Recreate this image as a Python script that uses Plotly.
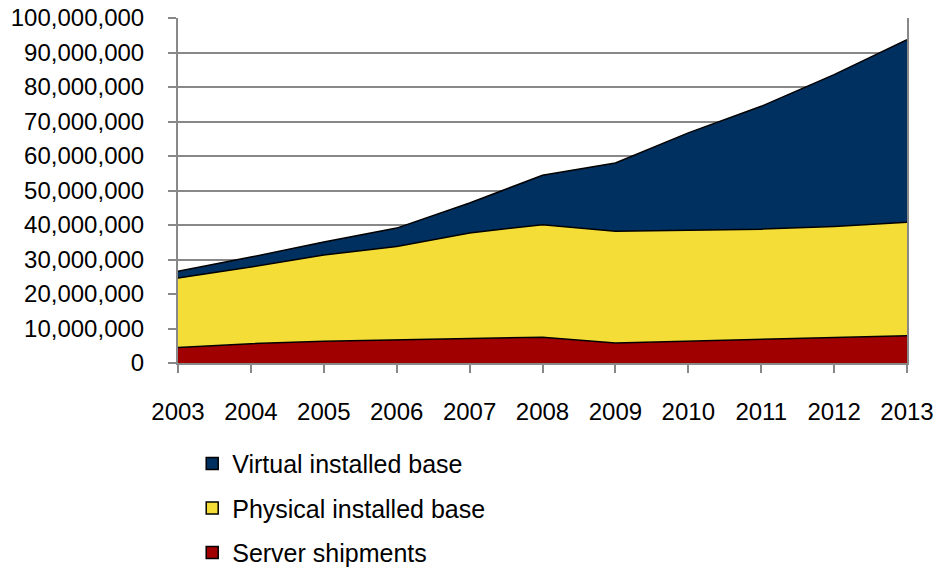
import plotly.graph_objects as go

years = [2003, 2004, 2005, 2006, 2007, 2008, 2009, 2010, 2011, 2012, 2013]
server_shipments = [4.5e6, 5.6e6, 6.3e6, 6.75e6, 7.2e6, 7.5e6, 5.8e6, 6.3e6, 7.0e6, 7.5e6, 7.9e6]
physical_base = [20.1e6, 22.2e6, 25.0e6, 27.05e6, 30.5e6, 32.6e6, 32.4e6, 32.3e6, 31.8e6, 32.1e6, 32.9e6]
virtual_base = [2.0e6, 2.9e6, 3.8e6, 5.3e6, 8.7e6, 14.3e6, 19.8e6, 28.1e6, 35.6e6, 44.0e6, 52.9e6]

series = [
    ("Server shipments", server_shipments, "#A00000"),
    ("Physical installed base", physical_base, "#F5DD37"),
    ("Virtual installed base", virtual_base, "#003060"),
]

fig = go.Figure()
for name, vals, color in series:
    fig.add_trace(go.Scatter(
        x=years, y=vals, name=name, stackgroup="one", mode="lines",
        line=dict(color="black", width=1.5), fillcolor=color,
        showlegend=False, hoverinfo="skip",
    ))
for name, vals, color in reversed(series):
    fig.add_trace(go.Bar(
        x=[None], y=[None], name=name, legendgroup=name,
        marker=dict(color=color, line=dict(color="black", width=1.5)),
        showlegend=True,
    ))

font = "Liberation Sans, Arial, sans-serif"
fig.update_layout(
    width=938, height=568,
    margin=dict(l=178, r=31, t=18, b=205, autoexpand=False),
    plot_bgcolor="white", paper_bgcolor="white",
    font=dict(family=font, size=24, color="black"),
    showlegend=True,
    legend=dict(
        x=0.0195, y=-0.225, xanchor="left", yanchor="top",
        traceorder="grouped", tracegroupgap=9,
        font=dict(size=25, color="black"),
        itemwidth=30,
    ),
    xaxis=dict(
        range=[2003, 2013], tickmode="linear", tick0=2003, dtick=1,
        showgrid=False, zeroline=False,
        showline=True, linecolor="#888888", linewidth=2,
        ticks="outside", ticklen=8, tickcolor="#888888", tickwidth=2,
        ticklabelstandoff=18,
        tickfont=dict(size=24, color="black"),
    ),
    yaxis=dict(
        range=[0, 1e8], tickmode="linear", tick0=0, dtick=1e7,
        tickformat=",d",
        showgrid=True, gridcolor="#888888", gridwidth=1.5,
        zeroline=False,
        showline=True, linecolor="#888888", linewidth=2, mirror=True,
        ticks="outside", ticklen=8, tickcolor="#888888", tickwidth=2,
        ticklabelstandoff=19,
        tickfont=dict(size=24, color="black"),
    ),
)

fig.write_html("out.html")
